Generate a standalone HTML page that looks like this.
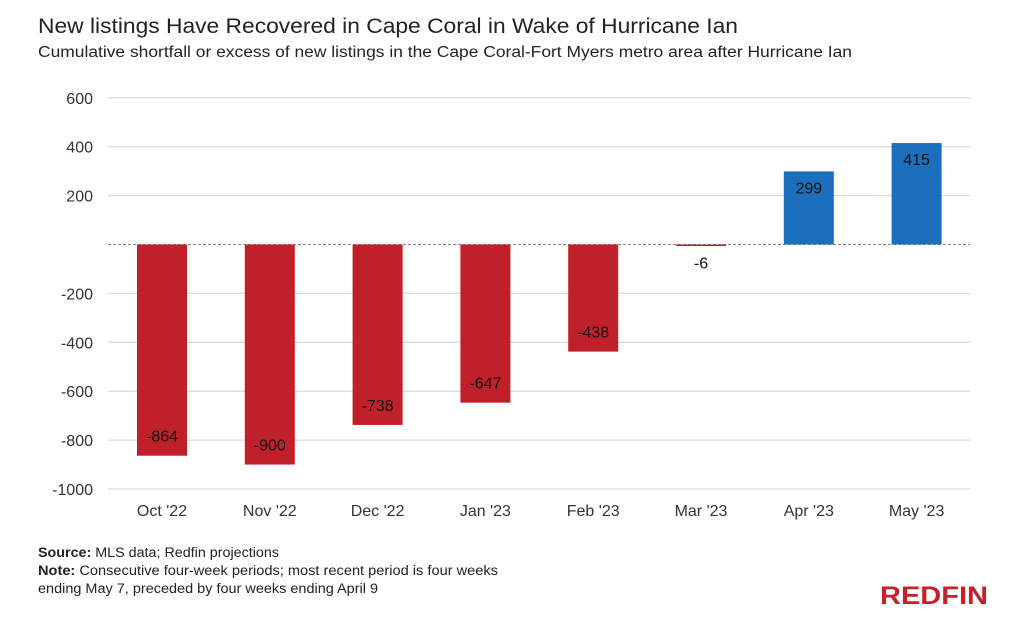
<!DOCTYPE html>
<html><head><meta charset="utf-8"><style>
body{margin:0;background:#fff;font-family:"Liberation Sans",sans-serif;}
svg text{font-family:"Liberation Sans",sans-serif;}
</style></head><body>
<svg id="c" width="1009" height="622" viewBox="0 0 1009 622">
<text x="38" y="33" font-size="21" fill="#222" textLength="700" lengthAdjust="spacingAndGlyphs">New listings Have Recovered in Cape Coral in Wake of Hurricane Ian</text>
<text x="38" y="57" font-size="15.5" fill="#222" textLength="814" lengthAdjust="spacingAndGlyphs">Cumulative shortfall or excess of new listings in the Cape Coral-Fort Myers metro area after Hurricane Ian</text>
<g id="grid"></g><g id="bars"></g>
<text x="38" y="557" font-size="13.5" fill="#222" textLength="241" lengthAdjust="spacingAndGlyphs"><tspan font-weight="bold">Source:</tspan> MLS data; Redfin projections</text>
<text x="38" y="575" font-size="13.5" fill="#222" textLength="460" lengthAdjust="spacingAndGlyphs"><tspan font-weight="bold">Note:</tspan> Consecutive four-week periods; most recent period is four weeks</text>
<text x="38" y="593" font-size="13.5" fill="#222" textLength="340" lengthAdjust="spacingAndGlyphs">ending May 7, preceded by four weeks ending April 9</text>
<text x="988" y="604" font-size="25" font-weight="bold" fill="#c8202a" text-anchor="end" textLength="108" lengthAdjust="spacingAndGlyphs">REDFIN</text>
</svg>
<script>
const categories=["Oct '22","Nov '22","Dec '22","Jan '23","Feb '23","Mar '23","Apr '23","May '23"];
const values=[-864,-900,-738,-647,-438,-6,299,415];
const ticks=[600,400,200,-200,-400,-600,-800,-1000];
const NS="http://www.w3.org/2000/svg";
const y=v=>244.5-v*0.2445;
const x=i=>162+i*107.8;
function mk(t,a,p,txt){const e=document.createElementNS(NS,t);for(const k in a)e.setAttribute(k,a[k]);if(txt!==undefined)e.textContent=txt;p.appendChild(e);return e;}
const g=document.getElementById('grid'),b=document.getElementById('bars');
ticks.forEach(t=>{
  const l=mk('line',{x1:108,x2:970,y1:y(t),y2:y(t),stroke:'#dcdcdc','stroke-width':1.3},g);
  
  
  const tx=mk('text',{x:93,y:y(t)+6,'font-size':16,fill:'#333','text-anchor':'end'},g,String(t));
  
  
});
const z=mk('line',{x1:108,x2:970,y1:y(0),y2:y(0),stroke:'#888','stroke-width':1,'stroke-dasharray':'3,2'},g);


values.forEach((v,i)=>{
  const top=Math.min(y(v),y(0)),h=Math.abs(y(v)-y(0));
  const r=mk('rect',{x:x(i)-25,y:top,width:50,height:Math.max(h,1.5),fill:v<0?'#c0202a':'#1b6fbd'},b);
  
  
  const ly=v<0?(Math.abs(v)<50?y(0)+24:y(v)-14):y(v)+22;
  const lt=mk('text',{x:x(i),y:ly,'font-size':16,fill:'#111','text-anchor':'middle'},b,String(v));
  
  
  const xt=mk('text',{x:x(i),y:516,'font-size':16,fill:'#333','text-anchor':'middle'},b,categories[i]);
  
  
});
</script>
</body></html>
